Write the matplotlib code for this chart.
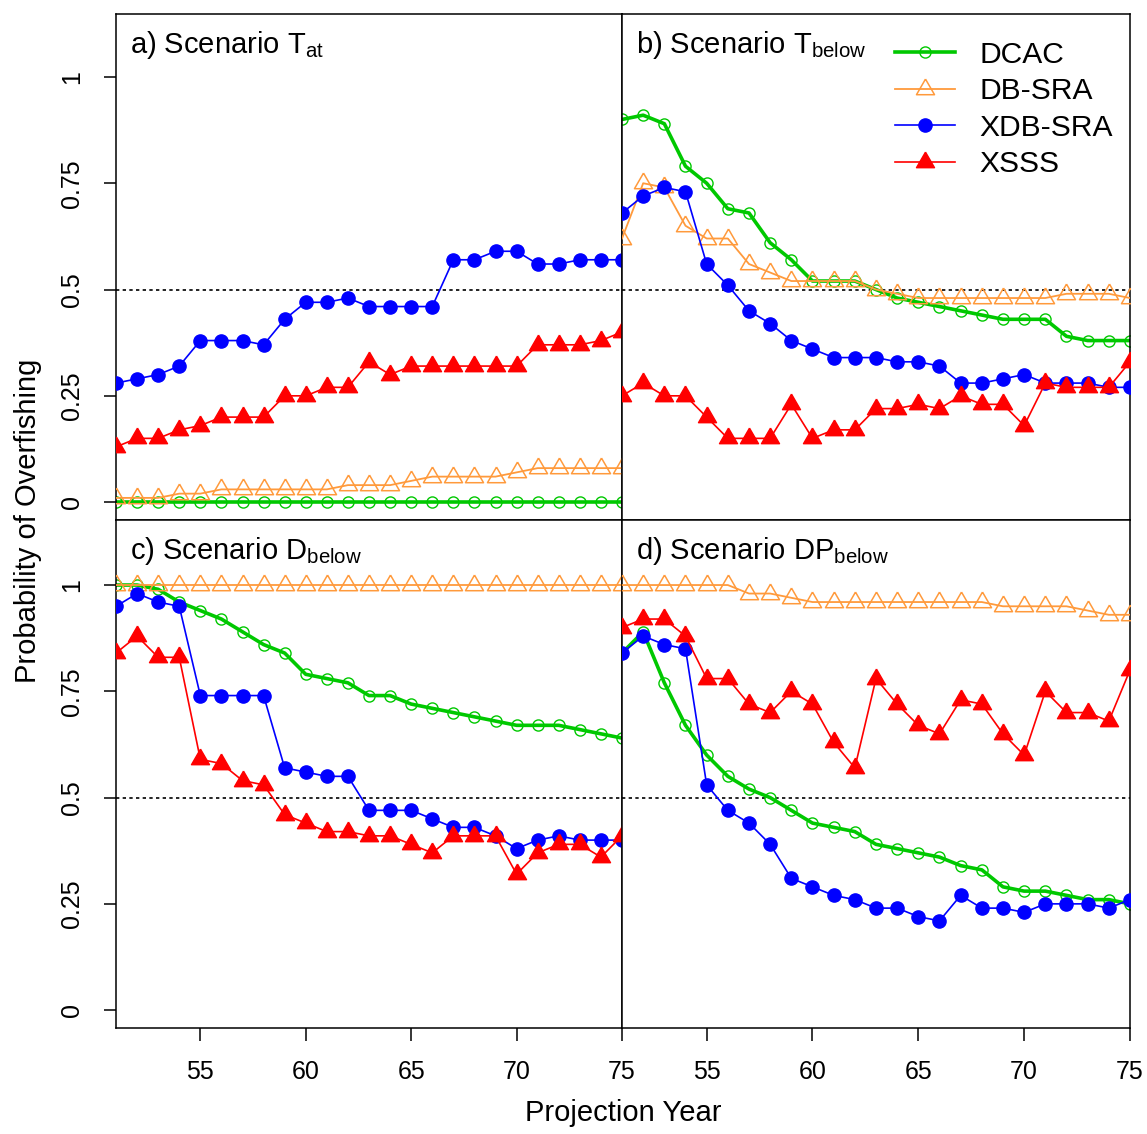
import matplotlib
matplotlib.use('Agg')
import matplotlib.pyplot as plt

plt.rcParams['font.family'] = ['Liberation Sans', 'DejaVu Sans']
plt.rcParams['mathtext.default'] = 'regular'

years = [51, 52, 53, 54, 55, 56, 57, 58, 59, 60, 61, 62, 63,
         64, 65, 66, 67, 68, 69, 70, 71, 72, 73, 74, 75]

# a) Scenario T_at
dcac_a = [0.00, 0.00, 0.00, 0.00, 0.00, 0.00, 0.00, 0.00, 0.00, 0.00, 0.00, 0.00, 0.00,
          0.00, 0.00, 0.00, 0.00, 0.00, 0.00, 0.00, 0.00, 0.00, 0.00, 0.00, 0.00]
dbsra_a = [0.01, 0.01, 0.01, 0.02, 0.02, 0.03, 0.03, 0.03, 0.03, 0.03, 0.03, 0.04, 0.04,
           0.04, 0.05, 0.06, 0.06, 0.06, 0.06, 0.07, 0.08, 0.08, 0.08, 0.08, 0.08]
xdbsra_a = [0.28, 0.29, 0.30, 0.32, 0.38, 0.38, 0.38, 0.37, 0.43, 0.47, 0.47, 0.48, 0.46,
            0.46, 0.46, 0.46, 0.57, 0.57, 0.59, 0.59, 0.56, 0.56, 0.57, 0.57, 0.57]
xsss_a = [0.13, 0.15, 0.15, 0.17, 0.18, 0.20, 0.20, 0.20, 0.25, 0.25, 0.27, 0.27, 0.33,
          0.30, 0.32, 0.32, 0.32, 0.32, 0.32, 0.32, 0.37, 0.37, 0.37, 0.38, 0.40]

# b) Scenario T_below
dcac_b = [0.90, 0.91, 0.89, 0.79, 0.75, 0.69, 0.68, 0.61, 0.57, 0.52, 0.52, 0.52, 0.50,
          0.48, 0.47, 0.46, 0.45, 0.44, 0.43, 0.43, 0.43, 0.39, 0.38, 0.38, 0.38]
dbsra_b = [0.62, 0.75, 0.74, 0.65, 0.62, 0.62, 0.56, 0.54, 0.52, 0.52, 0.52, 0.52, 0.50,
           0.49, 0.48, 0.48, 0.48, 0.48, 0.48, 0.48, 0.48, 0.49, 0.49, 0.49, 0.48]
xdbsra_b = [0.68, 0.72, 0.74, 0.73, 0.56, 0.51, 0.45, 0.42, 0.38, 0.36, 0.34, 0.34, 0.34,
            0.33, 0.33, 0.32, 0.28, 0.28, 0.29, 0.30, 0.28, 0.28, 0.28, 0.27, 0.27]
xsss_b = [0.25, 0.28, 0.25, 0.25, 0.20, 0.15, 0.15, 0.15, 0.23, 0.15, 0.17, 0.17, 0.22,
          0.22, 0.23, 0.22, 0.25, 0.23, 0.23, 0.18, 0.28, 0.27, 0.27, 0.27, 0.33]

# c) Scenario D_below
dcac_c = [1.00, 1.00, 0.99, 0.96, 0.94, 0.92, 0.89, 0.86, 0.84, 0.79, 0.78, 0.77, 0.74,
          0.74, 0.72, 0.71, 0.70, 0.69, 0.68, 0.67, 0.67, 0.67, 0.66, 0.65, 0.64]
dbsra_c = [1.00, 1.00, 1.00, 1.00, 1.00, 1.00, 1.00, 1.00, 1.00, 1.00, 1.00, 1.00, 1.00,
           1.00, 1.00, 1.00, 1.00, 1.00, 1.00, 1.00, 1.00, 1.00, 1.00, 1.00, 1.00]
xdbsra_c = [0.95, 0.98, 0.96, 0.95, 0.74, 0.74, 0.74, 0.74, 0.57, 0.56, 0.55, 0.55, 0.47,
            0.47, 0.47, 0.45, 0.43, 0.43, 0.41, 0.38, 0.40, 0.41, 0.40, 0.40, 0.40]
xsss_c = [0.84, 0.88, 0.83, 0.83, 0.59, 0.58, 0.54, 0.53, 0.46, 0.44, 0.42, 0.42, 0.41,
          0.41, 0.39, 0.37, 0.41, 0.41, 0.41, 0.32, 0.37, 0.39, 0.39, 0.36, 0.41]

# d) Scenario DP_below
dcac_d = [0.84, 0.89, 0.77, 0.67, 0.60, 0.55, 0.52, 0.50, 0.47, 0.44, 0.43, 0.42, 0.39,
          0.38, 0.37, 0.36, 0.34, 0.33, 0.29, 0.28, 0.28, 0.27, 0.26, 0.26, 0.25]
dbsra_d = [1.00, 1.00, 1.00, 1.00, 1.00, 1.00, 0.98, 0.98, 0.97, 0.96, 0.96, 0.96, 0.96,
           0.96, 0.96, 0.96, 0.96, 0.96, 0.95, 0.95, 0.95, 0.95, 0.94, 0.93, 0.93]
xdbsra_d = [0.84, 0.88, 0.86, 0.85, 0.53, 0.47, 0.44, 0.39, 0.31, 0.29, 0.27, 0.26, 0.24,
            0.24, 0.22, 0.21, 0.27, 0.24, 0.24, 0.23, 0.25, 0.25, 0.25, 0.24, 0.26]
xsss_d = [0.90, 0.92, 0.92, 0.88, 0.78, 0.78, 0.72, 0.70, 0.75, 0.72, 0.63, 0.57, 0.78,
          0.72, 0.67, 0.65, 0.73, 0.72, 0.65, 0.60, 0.75, 0.70, 0.70, 0.68, 0.80]

titles = ['a) Scenario T$_{at}$', 'b) Scenario T$_{below}$',
          'c) Scenario D$_{below}$', 'd) Scenario DP$_{below}$']
y_ticks = [0, 0.25, 0.5, 0.75, 1]
y_ticklabels = ['0', '0.25', '0.5', '0.75', '1']
x_ticks = [55, 60, 65, 70, 75]

# triangle centred on its centroid, like R's pch 2 / 17
tri = [(0, 1), (-0.866, -0.5), (0.866, -0.5), (0, 1)]

green = '#00C800'
orange = '#FF9A3C'
blue = '#0000FF'
red = '#FF0000'

W, H = 1147, 1134
fig = plt.figure(figsize=(W / 100, H / 100), dpi=100)

xl, xm, xr = 116, 622, 1130
yt, ym, yb = 14, 520, 1028


def rect(x0, x1, y0, y1):
    return [x0 / W, 1 - y1 / H, (x1 - x0) / W, (y1 - y0) / H]


boxes = [rect(xl, xm, yt, ym), rect(xm, xr, yt, ym),
         rect(xl, xm, ym, yb), rect(xm, xr, ym, yb)]
panels = [(dcac_a, dbsra_a, xdbsra_a, xsss_a),
          (dcac_b, dbsra_b, xdbsra_b, xsss_b),
          (dcac_c, dbsra_c, xdbsra_c, xsss_c),
          (dcac_d, dbsra_d, xdbsra_d, xsss_d)]

axes = []
for i, (box, (dc, db, xd, xs)) in enumerate(zip(boxes, panels)):
    ax = fig.add_axes(box)
    axes.append(ax)
    ax.axhline(0.5, color='black', lw=1.2, ls=(0, (2, 2)), zorder=1)
    ax.plot(years, dc, color=green, lw=2.6, marker='o', ms=8, mfc='none',
            mec=green, mew=1.0, label='DCAC', zorder=2)
    ax.plot(years, db, color=orange, lw=1.3, marker=tri, ms=15, mfc='none',
            mec=orange, mew=1.1, label='DB-SRA', zorder=3)
    ax.plot(years, xd, color=blue, lw=1.2, marker='o', ms=9.5, mfc=blue,
            mec=blue, label='XDB-SRA', zorder=4)
    ax.plot(years, xs, color=red, lw=1.2, marker=tri, ms=15, mfc=red,
            mec=red, label='XSSS', zorder=5)
    ax.set_xlim(51, 75)
    if i < 2:
        ax.set_ylim(-0.042, 1.148)
    else:
        ax.set_ylim(-0.042, 1.153)
    for s in ax.spines.values():
        s.set_linewidth(1.1)
    ax.tick_params(direction='out', length=9, width=1.1, pad=14, labelsize=18)
    ax.set_yticks(y_ticks)
    if i in (0, 2):
        ax.set_yticklabels(y_ticklabels, rotation=90, va='center')
    else:
        ax.tick_params(axis='y', left=False, labelleft=False)
    ax.set_xticks(x_ticks)
    if i < 2:
        ax.tick_params(axis='x', bottom=False, labelbottom=False)
    ax.text(0.028, 0.971, titles[i], transform=ax.transAxes, ha='left',
            va='top', fontsize=21)

axes[1].legend(loc='upper left', bbox_to_anchor=(0.537, 0.947), frameon=False,
               fontsize=21.6, handlelength=2.0, handletextpad=0.83,
               labelspacing=0.28, borderpad=0, borderaxespad=0)

fig.text(28 / W, 1 - 521 / H, 'Probability of Overfishing', rotation=90,
         ha='center', va='center', fontsize=21)
fig.text(623 / W, 1 - 1113 / H, 'Projection Year', ha='center',
         va='center', fontsize=21)

fig.savefig('out.png', dpi=100)
